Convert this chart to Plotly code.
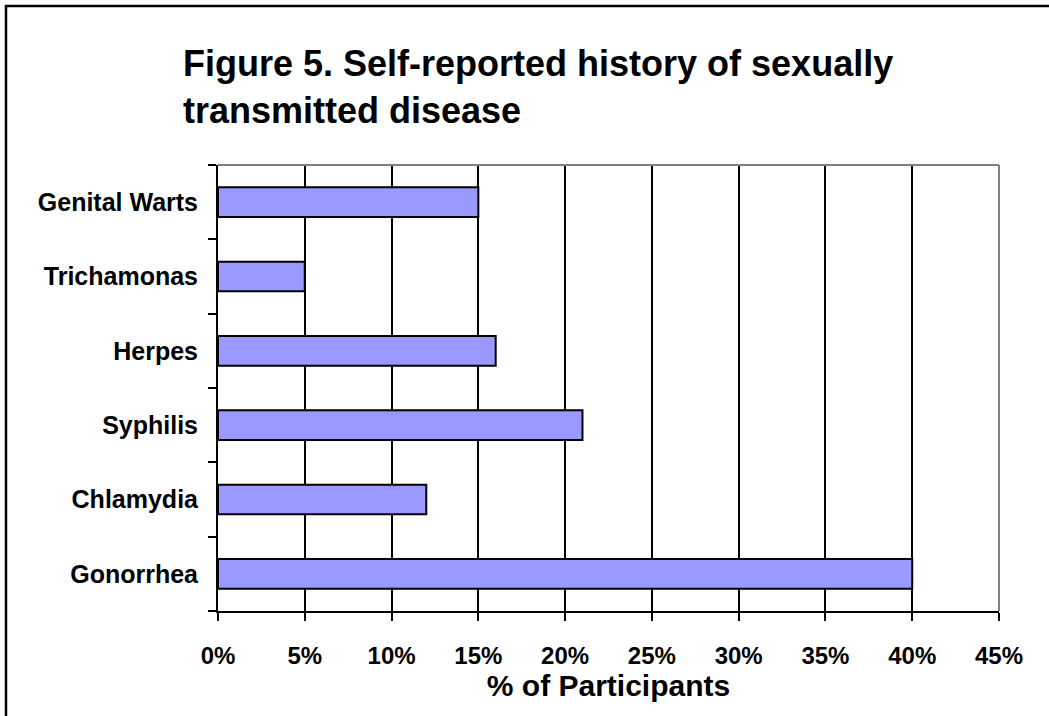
import plotly.graph_objects as go

# data (bottom to top as drawn)
diseases = ["Gonorrhea", "Chlamydia", "Syphilis", "Herpes", "Trichamonas", "Genital Warts"]
pct = [40, 12, 21, 16, 5, 15]
x_ticks = [0, 5, 10, 15, 20, 25, 30, 35, 40, 45]
x_labels = [f"{v}%" for v in x_ticks]

FONT = "Arial, Liberation Sans, sans-serif"
W, H = 1049, 716
L, R, T, B = 218, 50, 165, 105
pw, ph = W - L - R, H - T - B


def px_x(p):
    return (p - L) / pw


def px_y(p):
    return (H - B - p) / ph


fig = go.Figure(go.Bar(
    y=diseases, x=pct, orientation="h", width=0.4,
    marker=dict(color="#9999FF", line=dict(color="black", width=2)),
    hoverinfo="x+y"))

fig.update_xaxes(
    range=[0, 45], tickvals=x_ticks, ticktext=x_labels,
    showgrid=True, gridcolor="black", gridwidth=2,
    showline=True, linecolor="black", linewidth=2,
    ticks="outside", ticklen=8, tickwidth=2, tickcolor="black",
    ticklabelstandoff=14,
    tickfont=dict(family=FONT, size=24, color="black", weight="bold"),
    title=dict(text="<b>% of Participants</b>", standoff=2,
               font=dict(family=FONT, size=30, color="black")),
    zeroline=False, fixedrange=True)

fig.update_yaxes(
    categoryorder="array", categoryarray=diseases,
    showgrid=False, tickson="boundaries",
    showline=True, linecolor="black", linewidth=2,
    ticks="outside", ticklen=8, tickwidth=2, tickcolor="black",
    ticklabelstandoff=13,
    tickfont=dict(family=FONT, size=25, color="black", weight="bold"),
    fixedrange=True)

# gray plot-area border on top and right (Excel style)
fig.add_shape(type="line", xref="paper", yref="paper", x0=0, x1=1, y0=1, y1=1,
              line=dict(color="#808080", width=2), layer="above")
fig.add_shape(type="line", xref="paper", yref="paper", x0=1, x1=1, y0=0, y1=1,
              line=dict(color="#808080", width=2), layer="above")
# outer chart frame (only left/top visible in the crop)
fig.add_shape(type="rect", xref="paper", yref="paper",
              x0=px_x(6), x1=px_x(W + 20), y0=px_y(H + 20), y1=px_y(6),
              line=dict(color="black", width=2.5), layer="above")

fig.update_layout(
    width=W, height=H,
    margin=dict(l=L, r=R, t=T, b=B),
    paper_bgcolor="white", plot_bgcolor="white",
    showlegend=False, bargap=0.6,
    title=dict(text="<b>Figure 5. Self-reported history of sexually<br>transmitted disease</b>",
               x=183 / W, xanchor="left", xref="container",
               y=1 - 76 / H, yanchor="top", yref="container",
               font=dict(family=FONT, size=36, color="black")),
)

# drop the default 8px page margin so the figure sits at the window corner
fig.write_html("out.html", config={"displayModeBar": False},
               post_script="document.body.style.margin='0px';")
